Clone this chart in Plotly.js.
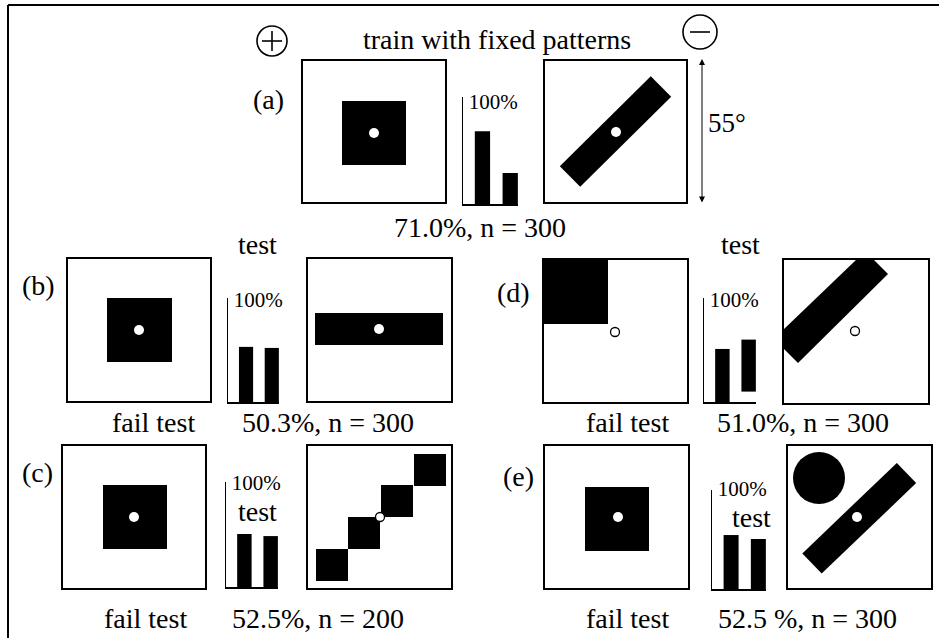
<!DOCTYPE html>
<html><head><meta charset="utf-8">
<script src="https://cdn.plot.ly/plotly-3.0.1.min.js"></script>
<style>html,body{margin:0;padding:0;background:#fff}#chart{width:939px;height:638px}</style>
</head><body><div id="chart"></div>
<script>
// ---- data ----
const panelLetters = ['(a)', '(b)', '(c)', '(d)', '(e)'];
const barCategories = ['rewarded', 'punished'];
const valuesA = [68, 29];
const valuesB = [53, 52];
const valuesC = [50.5, 48.5];
const valuesD = [51, 50];
const baseD = [0, 10];
const valuesE = [54.5, 50.5];
const accuracyLabels = ['71.0%, n = 300', '50.3%, n = 300', '52.5%, n = 200', '51.0%, n = 300', '52.5 %, n = 300'];
const scaleTickVals = [100];
const scaleTickText = ['100%'];

// ---- layout helpers (pixel geometry of the figure) ----
const W = 939, H = 638;
const FONT = 'Liberation Serif, Times New Roman, serif';
const barGeom = [ // x0 (axis), x1 (end), yTop (100%), yBase
  [463, 518, 97, 204],
  [228, 279, 298, 402],
  [226, 278, 482, 587],
  [704, 756, 298, 402],
  [712, 766, 490, 589]
];
const barValues = [valuesA, valuesB, valuesC, valuesD, valuesE];
const barBases = [null, null, null, baseD, null];
const labelShift = [5, 2, 1, 2, -1];

const traces = [{type: 'scatter', x: [], y: [], xaxis: 'x', yaxis: 'y', showlegend: false, hoverinfo: 'skip'}];
const layout = {
  width: W, height: H,
  margin: {l: 0, r: 0, t: 0, b: 0},
  paper_bgcolor: '#fff', plot_bgcolor: 'rgba(0,0,0,0)',
  showlegend: false,
  font: {family: FONT, color: '#000'},
  xaxis: {domain: [0, 1], range: [0, W], visible: false, fixedrange: true},
  yaxis: {domain: [0, 1], range: [H, 0], visible: false, fixedrange: true},
  shapes: [], annotations: []
};

barGeom.forEach((g, i) => {
  const n = i + 2;
  const xa = 'xaxis' + n, ya = 'yaxis' + n;
  const t = {
    type: 'bar', x: barCategories, y: barValues[i],
    xaxis: 'x' + n, yaxis: 'y' + n,
    width: 0.55, marker: {color: '#000', line: {width: 0}},
    showlegend: false, hoverinfo: 'skip'
  };
  if (barBases[i]) t.base = barBases[i];
  traces.push(t);
  layout[xa] = {
    domain: [g[0] / W, g[1] / W], anchor: 'y' + n, type: 'category',
    range: [-0.7, 1.28], showline: true, linecolor: '#000', linewidth: 1.5,
    showticklabels: false, ticks: '', showgrid: false, zeroline: false, fixedrange: true
  };
  layout[ya] = {
    domain: [1 - g[3] / H, 1 - g[2] / H], anchor: 'x' + n,
    range: [0, 100], showline: true, linecolor: '#000', linewidth: 1.5,
    tickvals: scaleTickVals, ticktext: scaleTickText,
    ticks: 'inside', ticklen: 4, tickwidth: 1.5, tickcolor: '#000',
    ticklabelposition: 'inside', ticklabeloverflow: 'allow', ticklabelshift: labelShift[i],
    ticklabelstandoff: 3,
    tickfont: {family: FONT, size: 21, color: '#000'},
    showgrid: false, zeroline: false, fixedrange: true
  };
});

const S = layout.shapes, A = layout.annotations;
function rect(x0, y0, x1, y1, fill, lw) {
  S.push({type: 'rect', xref: 'x', yref: 'y', x0, y0, x1, y1,
    fillcolor: fill || 'rgba(0,0,0,0)', line: {color: '#000', width: lw === undefined ? 2 : lw}});
}
function box(x0, y0, x1, y1) { rect(x0, y0, x1, y1, 'rgba(0,0,0,0)', 2); }
function block(x0, y0, x1, y1) { rect(x0, y0, x1, y1, '#000', 0); }
function circ(cx, cy, r, fill, lw) {
  S.push({type: 'circle', xref: 'x', yref: 'y', x0: cx - r, y0: cy - r, x1: cx + r, y1: cy + r,
    fillcolor: fill, line: {color: '#000', width: lw}});
}
function dot(cx, cy) { circ(cx, cy, 5, '#fff', 0); }
function hollow(cx, cy) { circ(cx, cy, 4.5, '#fff', 1.3); }
function line(x0, y0, x1, y1, lw) {
  S.push({type: 'line', xref: 'x', yref: 'y', x0, y0, x1, y1, line: {color: '#000', width: lw}});
}
function band(x1, y1, x2, y2, w) {
  const dx = x2 - x1, dy = y2 - y1, L = Math.hypot(dx, dy);
  const nx = -dy / L * w / 2, ny = dx / L * w / 2;
  S.push({type: 'path', xref: 'x', yref: 'y', fillcolor: '#000', line: {width: 0},
    path: `M${x1 + nx},${y1 + ny} L${x2 + nx},${y2 + ny} L${x2 - nx},${y2 - ny} L${x1 - nx},${y1 - ny} Z`});
}
function poly(pts) {
  S.push({type: 'path', xref: 'x', yref: 'y', fillcolor: '#000', line: {width: 0},
    path: 'M' + pts.map(p => p.join(',')).join(' L') + ' Z'});
}
function text(s, x, y, size, xanchor) {
  A.push({text: s, x, y, xref: 'x', yref: 'y', showarrow: false,
    xanchor: xanchor || 'center', yanchor: 'middle',
    font: {family: FONT, size: size || 28, color: '#000'}});
}

// figure frame (cropped: only top and left visible)
line(8, 5, W + 2, 5, 2);
line(8, 5, 8, H + 2, 2);

// (+) and (-) symbols
circ(272, 41, 15, 'rgba(0,0,0,0)', 1.6);
line(262, 41, 282, 41, 1.6); line(272, 31, 272, 51, 1.6);
circ(700, 32, 17, 'rgba(0,0,0,0)', 1.6);
line(690, 32, 710, 32, 1.6);

// (a) training patterns
box(302, 60, 446, 203);
block(342, 101, 406, 165); dot(374, 133);
box(544, 60, 687, 203);
band(570, 176.5, 661, 86.5, 29); dot(616, 132);
A.push({x: 702, y: 59, ax: 702, ay: 204, xref: 'x', yref: 'y', axref: 'x', ayref: 'y', text: '',
  showarrow: true, arrowside: 'end+start', arrowhead: 2, startarrowhead: 2, arrowsize: 1.2,
  startarrowsize: 1.2, arrowwidth: 1, arrowcolor: '#000'});

// (b)
box(67, 258, 211, 402);
block(107, 298, 172, 362); dot(139, 330);
box(307, 258, 452, 402);
block(315, 313, 443, 345); dot(379, 329);

// (c)
box(62, 445, 206, 589);
block(103, 485, 167, 549); dot(134, 517);
box(307, 445, 452, 589);
block(316, 549, 348, 581); block(348, 517, 380, 549);
block(381, 485, 413, 517); block(414, 454, 446, 486);
hollow(380, 517);

// (d)
box(543, 259, 688, 403);
block(543, 259, 608, 324); hollow(615, 332);
box(783, 259, 929, 404);
poly([[857, 259], [873, 259], [888, 274], [798, 363], [783, 348], [783, 330]]);
hollow(855, 331);

// (e)
box(544, 445, 689, 589);
block(585, 487, 649, 551); dot(618, 517);
box(787, 445, 932, 589);
circ(819, 478, 26, '#000', 0);
band(812, 563.5, 906.5, 473, 28); dot(857, 517);

// texts
text('train with fixed patterns', 497, 39);
text(panelLetters[0], 268, 99);
text(accuracyLabels[0], 480, 227);
text('55°', 706, 123, 27, 'left');
text('test', 257, 244); text('test', 740, 244);
text(panelLetters[1], 38, 285);
text(panelLetters[3], 513, 292);
text('fail test', 153, 422); text(accuracyLabels[1], 328, 422);
text('fail test', 627, 422); text(accuracyLabels[3], 803, 422);
text(panelLetters[2], 37, 472);
text(panelLetters[4], 518, 476);
text('test', 257, 511); text('test', 751, 517);
text('fail test', 145, 618); text(accuracyLabels[2], 318, 618);
text('fail test', 627, 618); text(accuracyLabels[4], 807, 618);

Plotly.newPlot('chart', traces, layout, {staticPlot: true, displayModeBar: false});
</script></body></html>
